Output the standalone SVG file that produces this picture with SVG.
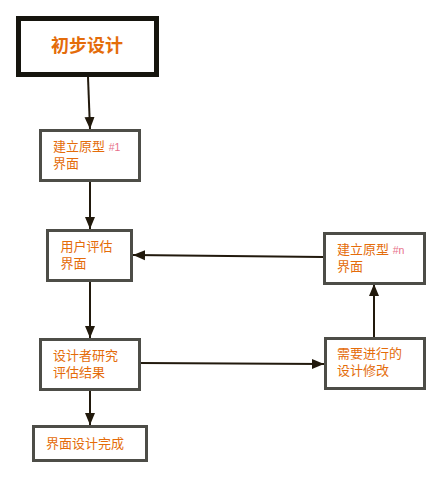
<svg xmlns="http://www.w3.org/2000/svg" width="442" height="478" viewBox="0 0 442 478">
<style>
.box{fill:#fff;stroke:#4d4d47;stroke-width:3}
.t{font-family:"Liberation Sans","Noto Sans CJK SC",sans-serif;fill:#e46c0a;font-size:13px}
.s{font-size:10.5px;fill:#e8708a}
.c{stroke:#21190c;stroke-width:2;fill:none;marker-end:url(#ah)}
</style>
<defs>
<marker id="ah" viewBox="0 0 12 12" refX="12" refY="6" markerWidth="12" markerHeight="12" markerUnits="userSpaceOnUse" orient="auto">
<path d="M0,1 L12,6 L0,11 Z" fill="#21190c"/>
</marker>
</defs>
<rect width="442" height="478" fill="#fff"/>
<g id="connectors">
<path class="c" d="M88,77 L90,129"/>
<path class="c" d="M90,182 L90,229"/>
<path class="c" d="M90,281 L90,338"/>
<path class="c" d="M90,390 L90,425"/>
<path class="c" d="M140,363 L324,364"/>
<path class="c" d="M374,337 L374,284"/>
<path class="c" d="M323,257 L133,255"/>
</g>
<g id="n1">
<rect x="18.5" y="18.5" width="138" height="56" fill="#fff" stroke="#16150e" stroke-width="5"/>
<text class="t" x="87" y="52" text-anchor="middle" style="font-size:18px;font-weight:bold">初步设计</text>
</g>
<g id="n2">
<rect class="box" x="40.5" y="130.5" width="99" height="50"/>
<text class="t" x="53" y="151">建立原型 <tspan class="s">#1</tspan></text>
<text class="t" x="53" y="168">界面</text>
</g>
<g id="n3">
<rect class="box" x="47.5" y="230.5" width="84" height="50"/>
<text class="t" x="60.5" y="251">用户评估</text>
<text class="t" x="60.5" y="268">界面</text>
</g>
<g id="n4">
<rect class="box" x="40.5" y="339.5" width="99" height="50"/>
<text class="t" x="53" y="360">设计者研究</text>
<text class="t" x="53" y="377">评估结果</text>
</g>
<g id="n5">
<rect class="box" x="33.5" y="426.5" width="113" height="34"/>
<text class="t" x="46" y="448">界面设计完成</text>
</g>
<g id="n6">
<rect class="box" x="324.5" y="233.5" width="100" height="50"/>
<text class="t" x="337" y="254">建立原型 <tspan class="s">#n</tspan></text>
<text class="t" x="337" y="271">界面</text>
</g>
<g id="n7">
<rect class="box" x="325.5" y="338.5" width="99" height="50"/>
<text class="t" x="337" y="358">需要进行的</text>
<text class="t" x="337" y="375">设计修改</text>
</g>
</svg>
